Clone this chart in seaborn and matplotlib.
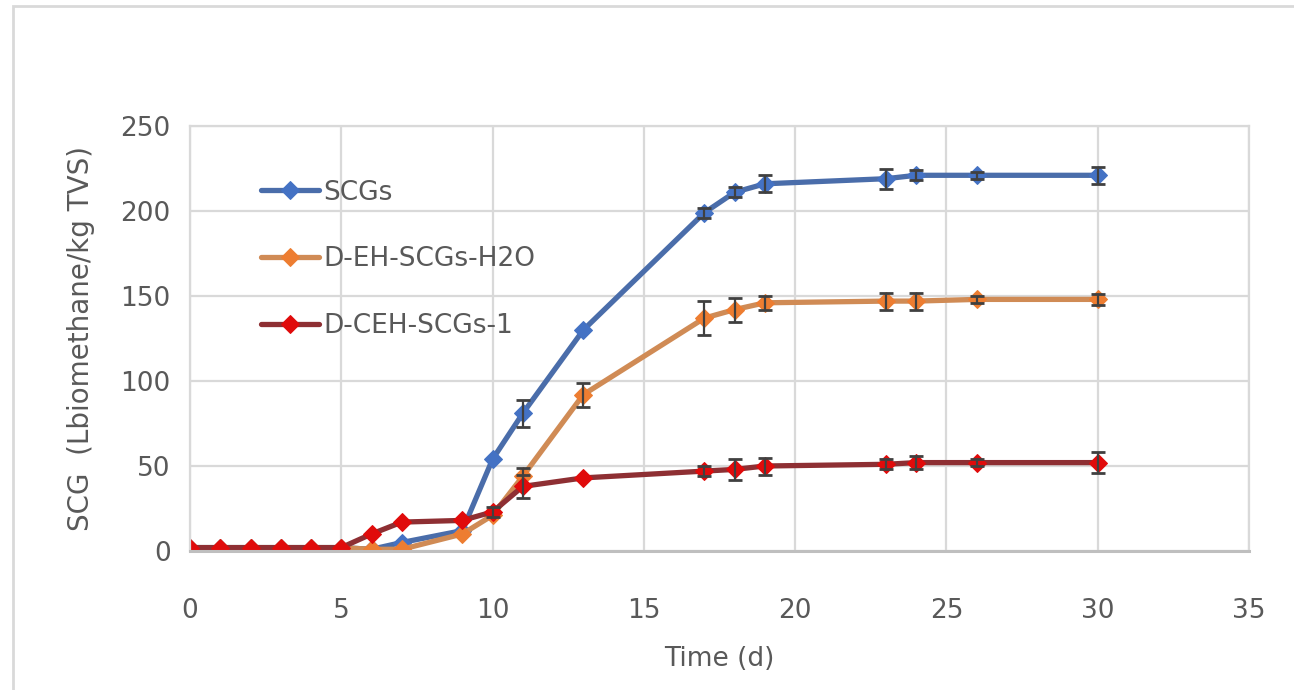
import pandas as pd
import numpy as np
import matplotlib
matplotlib.use("Agg")
import matplotlib.pyplot as plt
from matplotlib.patches import Rectangle
import seaborn as sb

# data
days = [0, 1, 2, 3, 4, 5, 6, 7, 9, 10, 11, 13, 17, 18, 19, 23, 24, 26, 30]
scgs = [2, 2, 2, 2, 2, 2, 1, 5, 12, 54, 81, 130, 199, 211, 216, 219, 221, 221, 221]
scgs_err = [0, 0, 0, 0, 0, 0, 0, 0, 0, 0, 8, 0, 3, 3, 5, 6, 3, 2, 5]
deh_h2o = [2, 2, 2, 2, 2, 2, 1, 1, 10, 21, 44, 92, 137, 142, 146, 147, 147, 148, 148]
deh_h2o_err = [0, 0, 0, 0, 0, 0, 0, 0, 0, 0, 5, 7, 10, 7, 4, 5, 5, 2, 3]
dceh_1 = [2, 2, 2, 2, 2, 2, 10, 17, 18, 23, 38, 43, 47, 48, 50, 51, 52, 52, 52]
dceh_1_err = [0, 0, 0, 0, 0, 0, 0, 0, 0, 3, 7, 0, 3, 6, 5, 3, 4, 2, 6]

series_names = ["SCGs", "D-EH-SCGs-H2O", "D-CEH-SCGs-1"]
line_colors = ["#4A6DAA", "#D08B55", "#8E2F33"]
marker_colors = ["#4472C4", "#ED7D31", "#E00B0B"]

sb.set_style("white")
plt.rcParams['font.family'] = ['Liberation Sans Narrow', 'DejaVu Sans Condensed', 'DejaVu Sans']

fig = plt.figure(figsize=(12.94, 6.9), dpi=100)
ax = fig.add_axes([190 / 1294, 1 - 551 / 690, (1249 - 190) / 1294, (551 - 126) / 690])

values = [scgs, deh_h2o, dceh_1]
errors = [scgs_err, deh_h2o_err, dceh_1_err]
for name, vals, errs, lc, mc in zip(series_names, values, errors, line_colors, marker_colors):
    df = pd.DataFrame({'day': days, 'value': vals})
    sb.lineplot(data=df, x='day', y='value', ax=ax, color=lc, lw=3.8,
                marker='D', markersize=9, markerfacecolor=mc, markeredgecolor=mc,
                label=name)
    errs = np.array(errs)
    keep = errs > 0
    ax.errorbar(np.array(days)[keep], np.array(vals)[keep], yerr=errs[keep], fmt='none',
                ecolor='#404040', elinewidth=1.6, capsize=5, capthick=2)

ax.set_xlim(0, 35)
ax.set_ylim(0, 250)
ax.set_xticks(range(0, 36, 5))
ax.set_yticks(range(0, 251, 50))
ax.grid(True, color='#D9D9D9', lw=1.6)
ax.set_axisbelow(True)
for side in ['top', 'right', 'left']:
    ax.spines[side].set_color('#D9D9D9')
    ax.spines[side].set_linewidth(1.6)
ax.spines['bottom'].set_color('#BFBFBF')
ax.spines['bottom'].set_linewidth(2.2)
ax.tick_params(axis='y', length=0, labelsize=19, labelcolor='#595959', pad=14)
ax.tick_params(axis='x', length=0, labelsize=19, labelcolor='#595959', pad=34)

ax.set_xlabel("Time (d)", fontsize=19, color='#595959', labelpad=16)
ax.set_ylabel("SCG  (Lbiomethane/kg TVS)", fontsize=20, color='#595959', labelpad=18)

leg = ax.legend(loc='upper left', bbox_to_anchor=(0.045, 0.93), frameon=False,
                fontsize=19, labelspacing=1.55, handlelength=2.2, handletextpad=0.15,
                labelcolor='#595959')

# light frame around the whole chart like the spreadsheet export
fig.add_artist(Rectangle((13 / 1294, -0.05), 1.2, 1 - 6 / 690 + 0.05,
                         transform=fig.transFigure, fill=False,
                         edgecolor='#D9D9D9', lw=2))

fig.savefig("out.png", dpi=100)
